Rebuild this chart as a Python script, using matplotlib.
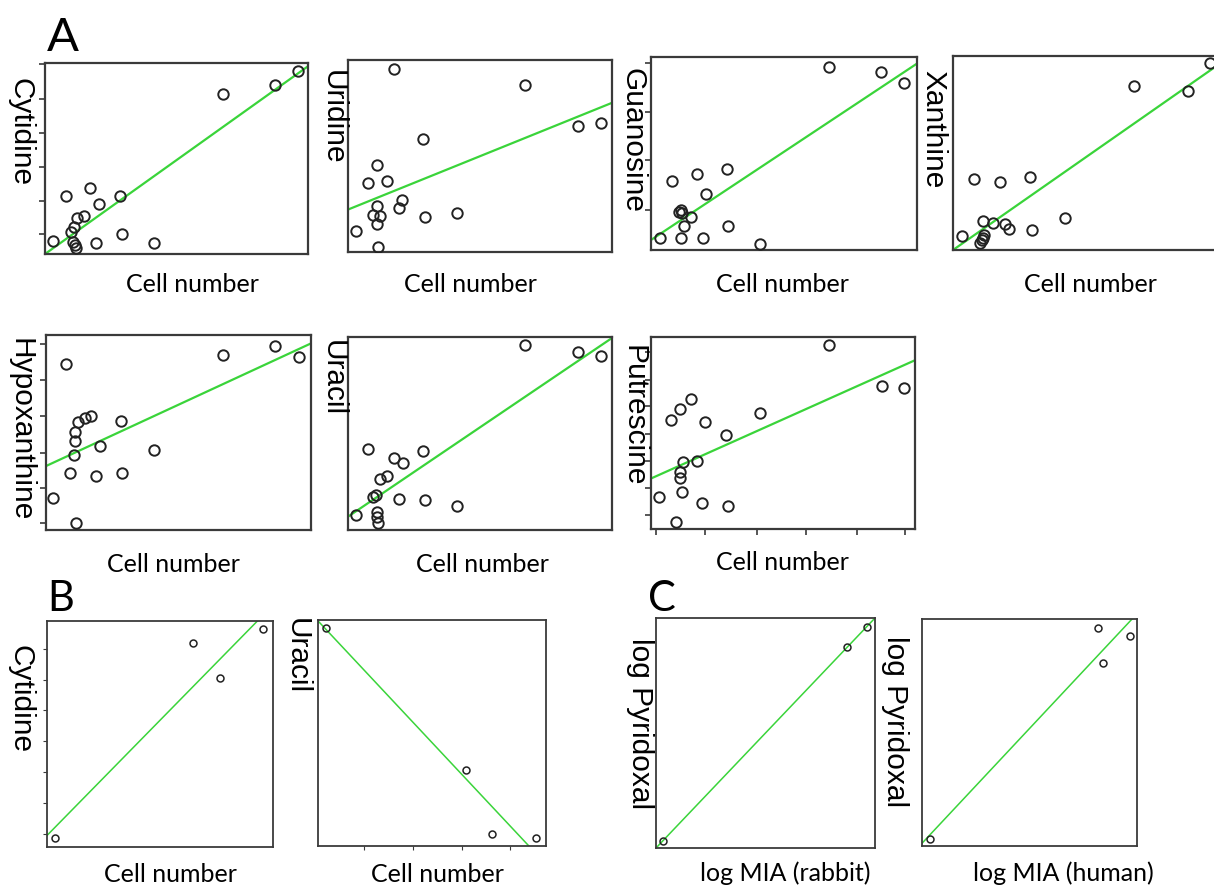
import matplotlib
matplotlib.use("Agg")
import matplotlib.pyplot as plt

# ---- data (arbitrary units, 0-100 on both axes) ----
cyt_x = [3.2, 7.8, 17.3, 28.5, 20.6, 14.8, 12.3, 11.0, 9.7, 10.8, 11.4, 11.8, 19.4, 29.2, 41.4, 67.5, 87.5, 96.2]
cyt_y = [7.0, 30.5, 34.3, 30.5, 26.0, 20.0, 18.6, 14.3, 11.7, 6.4, 4.7, 3.0, 5.9, 10.5, 5.6, 84.0, 88.7, 95.8]
cyt_fit = [0.0, 98.3]

uri_x = [17.3, 67.2, 87.3, 95.9, 28.4, 11.0, 7.6, 14.7, 11.0, 20.6, 19.2, 9.5, 12.3, 10.8, 29.2, 41.3, 3.2, 11.5]
uri_y = [95.1, 87.1, 65.6, 67.0, 58.6, 45.4, 36.0, 37.2, 24.2, 27.0, 23.0, 19.5, 18.6, 14.8, 18.4, 20.5, 11.1, 2.6]
uri_fit = [22.1, 77.7]

gua_x = [66.9, 86.6, 95.2, 28.6, 17.4, 7.8, 20.7, 10.4, 11.7, 11.2, 14.9, 12.3, 29.1, 3.5, 11.2, 19.4, 41.1]
gua_y = [94.8, 92.2, 86.7, 41.9, 39.5, 35.9, 28.8, 19.5, 19.3, 20.7, 16.9, 12.6, 12.6, 6.0, 6.0, 6.2, 3.1]
gua_fit = [5.2, 96.6]

xan_x = [96.9, 68.2, 88.6, 8.1, 17.6, 28.9, 11.3, 15.1, 19.7, 21.2, 29.7, 42.1, 3.3, 11.8, 10.9, 10.2, 11.5]
xan_y = [96.2, 84.5, 82.1, 36.4, 35.1, 37.6, 15.1, 13.7, 13.6, 10.7, 10.5, 16.3, 7.2, 7.7, 5.2, 3.8, 6.4]
xan_fit = [0.0, 95.4]

hyp_x = [7.4, 66.7, 86.6, 95.3, 17.1, 14.6, 12.0, 11.0, 10.8, 10.7, 20.3, 28.2, 40.9, 9.2, 19.0, 28.8, 2.8, 11.5]
hyp_y = [85.0, 89.7, 94.5, 88.9, 58.5, 57.6, 55.6, 50.4, 45.8, 38.5, 43.1, 56.1, 40.9, 29.1, 27.9, 29.2, 16.2, 3.4]
hyp_fit = [32.8, 95.7]

ura_x = [67.2, 87.1, 95.7, 7.7, 28.4, 17.3, 20.7, 12.0, 14.9, 9.5, 10.5, 19.2, 29.0, 41.2, 3.2, 10.9, 11.0, 11.4]
ura_y = [96.0, 92.2, 90.3, 41.9, 40.7, 37.2, 34.6, 26.5, 28.2, 17.3, 18.2, 15.9, 15.6, 12.5, 7.6, 9.5, 6.6, 3.8]
ura_fit = [6.9, 99.5]

put_x = [67.3, 87.4, 96.0, 15.2, 11.0, 7.7, 20.6, 41.3, 28.4, 12.2, 17.3, 11.0, 11.0, 11.6, 3.2, 19.4, 29.3, 9.5]
put_y = [95.7, 74.5, 73.5, 67.6, 62.7, 56.7, 55.8, 60.5, 48.7, 34.7, 35.5, 29.8, 26.7, 19.1, 16.8, 13.3, 12.1, 3.8]
put_fit = [26.3, 87.9]

bcyt_x = [95.6, 64.7, 76.5, 3.4]
bcyt_y = [96.5, 90.4, 74.6, 3.8]
bcyt_fit_x = [0.0, 93.1]
bcyt_fit_y = [5.1, 100.0]

bura_x = [3.5, 64.8, 76.5, 95.6]
bura_y = [96.6, 33.5, 5.2, 3.4]
bura_fit_x = [0.0, 92.5]
bura_fit_y = [99.6, 0.0]

rab_x = [96.2, 87.2, 3.3]
rab_y = [95.9, 87.5, 3.2]
rab_fit_x = [0.0, 100.0]
rab_fit_y = [0.0, 100.0]

hum_x = [82.0, 96.6, 84.3, 3.6]
hum_y = [96.2, 92.7, 80.8, 3.2]
hum_fit_x = [0.0, 97.7]
hum_fit_y = [1.2, 100.0]

W, H = 1214, 888
fig = plt.figure(figsize=(W / 100, H / 100), dpi=100)

green = "#3ad43a"
lab_font = ["Liberation Sans", "DejaVu Sans"]
cell_font = ["Lato", "DejaVu Sans"]


def make_ax(l, t, r, b, lw=1.6):
    ax = fig.add_axes([l / W, 1 - b / H, (r - l) / W, (b - t) / H])
    ax.set_xlim(0, 100)
    ax.set_ylim(0, 100)
    ax.set_xticks([])
    ax.set_yticks([])
    for s in ax.spines.values():
        s.set_color("#3a3a3a")
        s.set_linewidth(lw)
    ax.tick_params(length=4, width=1.2, color="#3a3a3a", labelleft=False, labelbottom=False)
    return ax


def scatter_panel(ax, x, y, fx, fy, ms=7.5, mlw=1.4, llw=1.6):
    ax.plot(fx, fy, color=green, lw=llw, zorder=2)
    ax.plot(x, y, "o", ms=ms, mfc="none", mec="#222222", mew=mlw, zorder=3)


def ylab(x, y, s, size=21.5):
    fig.text(x / W, 1 - y / H, s, rotation=270, ha="center", va="top",
             fontsize=size, family=lab_font)


def xlab(x, y, s, size=18):
    fig.text(x / W, 1 - y / H, s, ha="center", va="center",
             fontsize=size, family=cell_font)


full = [0, 100]

# ---- panel A, top row ----
ax = make_ax(45, 63, 308, 254)
scatter_panel(ax, cyt_x, cyt_y, full, cyt_fit)
ax.set_yticks([99.3, 81.4, 63.4, 45.6, 27.9, 10.5])
ylab(20, 78, "Cytidine")
xlab(192, 284, "Cell number")

ax = make_ax(348, 60, 612, 252)
scatter_panel(ax, uri_x, uri_y, full, uri_fit)
ylab(333, 70, "Uridine")
xlab(470, 284, "Cell number")

ax = make_ax(651, 57, 917, 250)
scatter_panel(ax, gua_x, gua_y, full, gua_fit)
ax.set_yticks([96.9, 71.6, 46.6, 20.7])
ylab(633, 68, "Guanosine")
xlab(782, 284, "Cell number")

ax = make_ax(953, 56, 1218, 250)
scatter_panel(ax, xan_x, xan_y, full, xan_fit)
ylab(933, 70, "Xanthine")
xlab(1090, 284, "Cell number")

# ---- panel A, second row ----
ax = make_ax(46, 335, 311, 530)
scatter_panel(ax, hyp_x, hyp_y, full, hyp_fit)
ax.set_yticks([95.4, 76.9, 58.5, 39.7, 21.4, 3.8])
ylab(20, 338, "Hypoxanthine")
xlab(173, 564, "Cell number")

ax = make_ax(348, 337, 612, 530)
scatter_panel(ax, ura_x, ura_y, full, ura_fit)
ylab(333, 340, "Uracil")
xlab(482, 564, "Cell number")

ax = make_ax(651, 337, 915, 529)
scatter_panel(ax, put_x, put_y, full, put_fit)
ax.set_yticks([92.2, 77.8, 64.0, 49.7, 35.5, 21.5, 7.3])
ax.set_xticks([1.9, 20.5, 40.0, 58.9, 77.9, 96.2])
ylab(633, 345, "Putrescine")
xlab(782, 562, "Cell number")

# ---- panel B ----
ax = make_ax(47, 621, 273, 847, lw=1.3)
scatter_panel(ax, bcyt_x, bcyt_y, bcyt_fit_x, bcyt_fit_y, ms=5, mlw=1.1, llw=1.1)
ax.set_yticks([87.4, 74.1, 60.6, 46.9, 33.1, 19.4, 5.7])
ax.tick_params(length=3, width=0.8)
ylab(20, 645, "Cytidine")
xlab(170, 874, "Cell number")

ax = make_ax(318, 620, 546, 846, lw=1.3)
scatter_panel(ax, bura_x, bura_y, bura_fit_x, bura_fit_y, ms=5, mlw=1.1, llw=1.1)
ax.set_xticks([20.2, 41.7, 63.2, 84.2])
ax.tick_params(length=3, width=0.8)
ylab(297, 618, "Uracil")
xlab(437, 874, "Cell number")

# ---- panel C ----
ax = make_ax(656, 618, 875, 848, lw=1.3)
scatter_panel(ax, rab_x, rab_y, rab_fit_x, rab_fit_y, ms=5, mlw=1.1, llw=1.1)
ylab(640, 638, "log Pyridoxal")
xlab(785, 873, "log MIA (rabbit)")

ax = make_ax(922, 619, 1137, 846, lw=1.3)
scatter_panel(ax, hum_x, hum_y, hum_fit_x, hum_fit_y, ms=5, mlw=1.1, llw=1.1)
ylab(895, 636, "log Pyridoxal")
xlab(1063, 873, "log MIA (human)")

# panel letters
fig.text(47 / W, 1 - 38 / H, "A", fontsize=34, family=cell_font, va="center", ha="left")
fig.text(47 / W, 1 - 599 / H, "B", fontsize=30, family=cell_font, va="center", ha="left")
fig.text(648 / W, 1 - 599 / H, "C", fontsize=30, family=cell_font, va="center", ha="left")

fig.savefig("out.png", dpi=100)
